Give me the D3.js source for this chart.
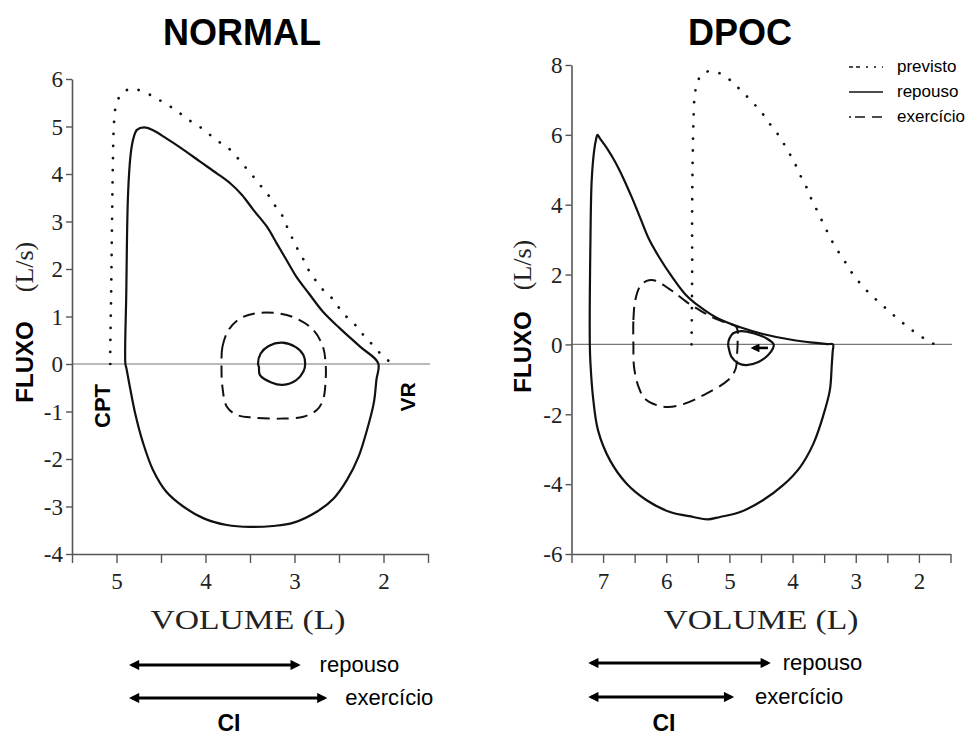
<!DOCTYPE html>
<html><head><meta charset="utf-8">
<script src="https://cdn.jsdelivr.net/npm/d3@7"></script>
<style>body{margin:0;background:#fff}svg{display:block}</style>
</head><body>
<svg id="chart" width="973" height="738"></svg>
<script>
// ---------- DATA ----------
const titles = ["NORMAL", "DPOC"];
const normalTicksX = [5.5, 5, 4.5, 4, 3.5, 3, 2.5, 2, 1.5];
const normalTicksY = [6, 5, 4, 3, 2, 1, 0, -1, -2, -3, -4];
const dpocTicksX = [7.5, 7, 6.5, 6, 5.5, 5, 4.5, 4, 3.5, 3, 2.5, 2, 1.5];
const dpocTicksY = [8, 6, 4, 2, 0, -2, -4, -6];
const legendLabels = ["previsto", "repouso", "exercício"];
const ciLabels = ["repouso", "exercício"];

// [volume (L), fluxo (L/s)]
const normalPrevisto = [[5.07,0],[5.07,0.3],[5.06,1.5],[5.05,3.0],[5.04,4.3],[5.03,5.0],[5.01,5.4],[4.95,5.68],[4.88,5.77],[4.80,5.79],[4.66,5.70],[4.55,5.59],[4.42,5.45],[4.31,5.31],[4.19,5.14],[4.07,5.00],[3.96,4.84],[3.85,4.68],[3.74,4.54],[3.64,4.34],[3.55,4.14],[3.46,3.94],[3.37,3.73],[3.28,3.52],[3.21,3.31],[3.13,3.10],[3.08,2.87],[3.02,2.63],[2.96,2.40],[2.89,2.17],[2.83,1.94],[2.75,1.73],[2.66,1.52],[2.56,1.35],[2.47,1.10],[2.38,0.93],[2.28,0.75],[2.21,0.57],[2.11,0.38],[2.02,0.19],[1.93,0.05],[1.88,0]];
const normalRepouso = [[4.90,0],[4.89,1.5],[4.87,3.59],[4.84,4.43],[4.81,4.75],[4.77,4.93],[4.69,4.98],[4.60,4.93],[4.44,4.75],[4.27,4.54],[4.06,4.26],[3.87,4.01],[3.72,3.80],[3.59,3.56],[3.46,3.24],[3.31,2.89],[3.20,2.54],[3.09,2.19],[2.98,1.84],[2.84,1.49],[2.68,1.10],[2.49,0.75],[2.26,0.36],[2.06,0.02],[2.08,-0.34],[2.11,-0.83],[2.19,-1.42],[2.28,-1.95],[2.41,-2.44],[2.56,-2.83],[2.75,-3.11],[3.01,-3.34],[3.24,-3.41],[3.50,-3.43],[3.76,-3.39],[4.02,-3.25],[4.25,-3.00],[4.44,-2.69],[4.59,-2.23],[4.70,-1.67],[4.79,-1.04],[4.85,-0.48],[4.89,-0.08]];
const normalExercicio = [[3.82,0],[3.81,0.36],[3.74,0.72],[3.61,0.96],[3.42,1.07],[3.20,1.07],[2.98,0.96],[2.79,0.72],[2.68,0.36],[2.65,0],[2.65,-0.34],[2.68,-0.76],[2.75,-0.97],[2.90,-1.11],[3.16,-1.15],[3.46,-1.13],[3.65,-1.07],[3.76,-0.90],[3.81,-0.48]];
const normalTidal = [[3.41,0],[3.38,0.22],[3.29,0.38],[3.14,0.45],[2.99,0.36],[2.90,0.19],[2.88,0],[2.90,-0.16],[2.98,-0.34],[3.13,-0.44],[3.26,-0.39],[3.39,-0.23],[3.40,-0.06]];
const normalCI = [4.87, 2.92, 2.62]; // CPT, fim expiração repouso, fim expiração exercício

const dpocPrevisto = [[5.60,0],[5.59,2.0],[5.59,3.94],[5.57,6.33],[5.55,7.10],[5.51,7.48],[5.42,7.77],[5.24,7.81],[5.06,7.67],[4.91,7.43],[4.77,7.19],[4.63,6.92],[4.50,6.67],[4.39,6.38],[4.26,6.09],[4.16,5.81],[4.05,5.47],[3.96,5.17],[3.88,4.85],[3.79,4.54],[3.72,4.23],[3.63,3.90],[3.54,3.56],[3.46,3.26],[3.37,2.94],[3.27,2.64],[3.16,2.34],[3.06,2.05],[2.94,1.77],[2.81,1.51],[2.67,1.27],[2.52,1.03],[2.37,0.79],[2.21,0.55],[2.05,0.33],[1.89,0.14],[1.75,0]];
const dpocRepouso = [[7.21,0],[7.20,2.99],[7.18,4.71],[7.14,5.57],[7.11,5.88],[7.09,6.0],[7.05,5.9],[6.94,5.62],[6.81,5.23],[6.68,4.76],[6.55,4.23],[6.42,3.66],[6.28,3.04],[6.10,2.46],[5.91,1.94],[5.70,1.44],[5.47,1.08],[5.18,0.74],[4.83,0.49],[4.47,0.30],[4.04,0.14],[3.67,0.05],[3.45,0.01],[3.36,0],[3.365,-0.2],[3.38,-0.6],[3.41,-1.31],[3.52,-2.07],[3.67,-2.84],[3.88,-3.51],[4.15,-4.03],[4.47,-4.46],[4.83,-4.80],[5.15,-4.94],[5.35,-5.01],[5.57,-4.94],[5.94,-4.80],[6.31,-4.46],[6.63,-3.98],[6.89,-3.32],[7.08,-2.46],[7.16,-1.50],[7.20,-0.54]];
const dpocExercicio = [[6.52,0],[6.52,0.70],[6.49,1.27],[6.42,1.65],[6.31,1.82],[6.20,1.84],[6.07,1.73],[5.89,1.51],[5.68,1.22],[5.47,0.98],[5.26,0.77],[5.05,0.62],[4.89,0.50],[4.87,0.1],[4.88,-0.3],[4.90,-0.69],[5.02,-1.02],[5.41,-1.45],[5.73,-1.71],[5.97,-1.79],[6.15,-1.74],[6.34,-1.55],[6.44,-1.21],[6.51,-0.64]];
const dpocTidal = [[5.02,0],[5.00,0.17],[4.94,0.32],[4.81,0.38],[4.62,0.32],[4.41,0.17],[4.30,0],[4.31,-0.11],[4.39,-0.31],[4.54,-0.50],[4.73,-0.59],[4.86,-0.54],[4.97,-0.35],[5.01,-0.11]];
const dpocFlowArrow = [[4.39,-0.1],[4.67,-0.1]];
const dpocCI = [7.25, 4.33, 4.91];

// ---------- LAYOUT ----------
const svg = d3.select("#chart");
const defs = svg.append("defs");
defs.append("marker").attr("id","ah").attr("viewBox","0 0 10 10")
  .attr("refX",7).attr("refY",5).attr("markerWidth",4).attr("markerHeight",3.4)
  .attr("orient","auto-start-reverse").attr("markerUnits","strokeWidth")
  .append("path").attr("d","M0,0 L10,5 L0,10 Z").attr("fill","#000");

const panels = [
  {title: titles[0], tx: 242, ticksX: normalTicksX, ticksY: normalTicksY,
   xs: d3.scaleLinear().domain([5.5,1.5]).range([72,428]),
   ys: d3.scaleLinear().domain([6,-4]).range([79,554]),
   zeroEnd: 430, fluxoY: 362, lsY: 267, labelX: 33, volX: 248,
   previsto: normalPrevisto, repouso: normalRepouso, exercicio: normalExercicio, tidal: normalTidal,
   ci: normalCI, ciY: [665, 698], ciTextDx: [18, 17], ciLabelX: 229, ciLabelY: 731, dashes: "12,7"},
  {title: titles[1], tx: 740, ticksX: dpocTicksX, ticksY: dpocTicksY,
   xs: d3.scaleLinear().domain([7.5,1.5]).range([571.5,950.5]),
   ys: d3.scaleLinear().domain([8,-6]).range([65,554]),
   zeroEnd: 952, fluxoY: 352, lsY: 265, labelX: 531, volX: 761,
   previsto: dpocPrevisto, repouso: dpocRepouso, exercicio: dpocExercicio, tidal: dpocTidal,
   ci: dpocCI, ciY: [663, 697], ciTextDx: [11, 20], ciLabelX: 664, ciLabelY: 731, dashes: "13,7"}
];

const serif = "'Liberation Serif','Times New Roman',serif";
const sans = "'Liberation Sans',Arial,Helvetica,sans-serif";

panels.forEach((p, i) => {
  const g = svg.append("g");
  g.append("text").attr("x", p.tx).attr("y", 45).attr("text-anchor","middle")
    .attr("font-family", sans).attr("font-weight","bold").attr("font-size",36).text(p.title);

  g.append("line").attr("x1", p.xs.range()[0]).attr("x2", p.zeroEnd)
    .attr("y1", p.ys(0)).attr("y2", p.ys(0)).attr("stroke","#777").attr("stroke-width",1.2);

  const fmt = d => Number.isInteger(d) ? String(d) : "";
  const ax = g.append("g").attr("transform", `translate(0,${p.ys.range()[1]})`)
    .call(d3.axisBottom(p.xs).tickValues(p.ticksX).tickFormat(fmt).tickSize(9).tickSizeOuter(0).tickPadding(10));
  const ay = g.append("g").attr("transform", `translate(${p.xs.range()[0]},0)`)
    .call(d3.axisLeft(p.ys).tickValues(p.ticksY).tickFormat(fmt).tickSize(6).tickSizeOuter(0).tickPadding(3));
  [ax, ay].forEach(a => {
    a.select(".domain").attr("stroke","#555").attr("stroke-width",1.6);
    a.selectAll(".tick line").attr("stroke","#555").attr("stroke-width",1.4);
    a.selectAll(".tick text").attr("font-family", serif).attr("font-size",23).attr("fill","#222");
  });
  ay.selectAll(".tick text").attr("dy","0.34em");

  g.append("text").attr("transform", `translate(${p.labelX},${p.fluxoY}) rotate(-90)`)
    .attr("text-anchor","middle").attr("font-family", sans).attr("font-weight","bold")
    .attr("font-size",24).text("FLUXO");
  g.append("text").attr("transform", `translate(${p.labelX},${p.lsY}) rotate(-90)`)
    .attr("text-anchor","middle").attr("font-family", serif).attr("font-size",26).attr("fill","#222")
    .text("(L/s)");
  g.append("text").attr("x", p.volX).attr("y", 629).attr("text-anchor","middle")
    .attr("font-family", serif).attr("font-size",28).attr("fill","#222")
    .attr("textLength",195).attr("lengthAdjust","spacingAndGlyphs").text("VOLUME  (L)");

  const open = d3.line().x(d => p.xs(d[0])).y(d => p.ys(d[1])).curve(d3.curveCatmullRom.alpha(0.5));
  const closed = d3.line().x(d => p.xs(d[0])).y(d => p.ys(d[1])).curve(d3.curveCatmullRomClosed.alpha(0.5));
  g.append("path").attr("d", open(p.previsto)).attr("fill","none").attr("stroke","#111")
    .attr("stroke-width",2.7).attr("stroke-linecap","round").attr("stroke-dasharray","0.1,12");
  g.append("path").attr("d", closed(p.repouso)).attr("fill","none").attr("stroke","#111").attr("stroke-width",2.2);
  g.append("path").attr("d", closed(p.exercicio)).attr("fill","none").attr("stroke","#111")
    .attr("stroke-width",2).attr("stroke-dasharray", p.dashes);
  g.append("path").attr("d", closed(p.tidal)).attr("fill","none").attr("stroke","#111").attr("stroke-width",2.2);

  [1, 2].forEach((k, j) => {
    const y = p.ciY[j];
    const xa = p.xs(p.ci[0]), xb = p.xs(p.ci[k]);
    g.append("line").attr("x1", xa + 4).attr("x2", xb - 4).attr("y1", y).attr("y2", y)
      .attr("stroke","#000").attr("stroke-width",3)
      .attr("marker-start","url(#ah)").attr("marker-end","url(#ah)");
    g.append("text").attr("x", xb + p.ciTextDx[j]).attr("y", y + 7)
      .attr("font-family", sans).attr("font-size",22).text(ciLabels[j]);
  });
  g.append("text").attr("x", p.ciLabelX).attr("y", p.ciLabelY).attr("text-anchor","middle")
    .attr("font-family", sans).attr("font-weight","bold").attr("font-size",23).text("CI");
});

svg.append("text").attr("transform","translate(110,406) rotate(-90)").attr("text-anchor","middle")
  .attr("font-family", sans).attr("font-weight","bold").attr("font-size",22).text("CPT");
svg.append("text").attr("transform","translate(415,397) rotate(-90)").attr("text-anchor","middle")
  .attr("font-family", sans).attr("font-weight","bold").attr("font-size",21).text("VR");

const pd = panels[1];
svg.append("line")
  .attr("x1", pd.xs(dpocFlowArrow[0][0])).attr("y1", pd.ys(dpocFlowArrow[0][1]))
  .attr("x2", pd.xs(dpocFlowArrow[1][0]) + 3).attr("y2", pd.ys(dpocFlowArrow[1][1]))
  .attr("stroke","#000").attr("stroke-width",2.6).attr("marker-end","url(#ah)");

const legY = [67, 92, 117];
const legDash = ["4,3,4,6,2,6,2,6,2", null, "2,4,10,7,10"];
const leg = svg.append("g");
legendLabels.forEach((t, i) => {
  leg.append("line").attr("x1", 849).attr("x2", 883).attr("y1", legY[i]).attr("y2", legY[i])
    .attr("stroke","#111").attr("stroke-width",1.6).attr("stroke-dasharray", legDash[i]);
  leg.append("text").attr("x", 897).attr("y", legY[i] + 5)
    .attr("font-family", sans).attr("font-size",17).text(t);
});
</script>
</body></html>
